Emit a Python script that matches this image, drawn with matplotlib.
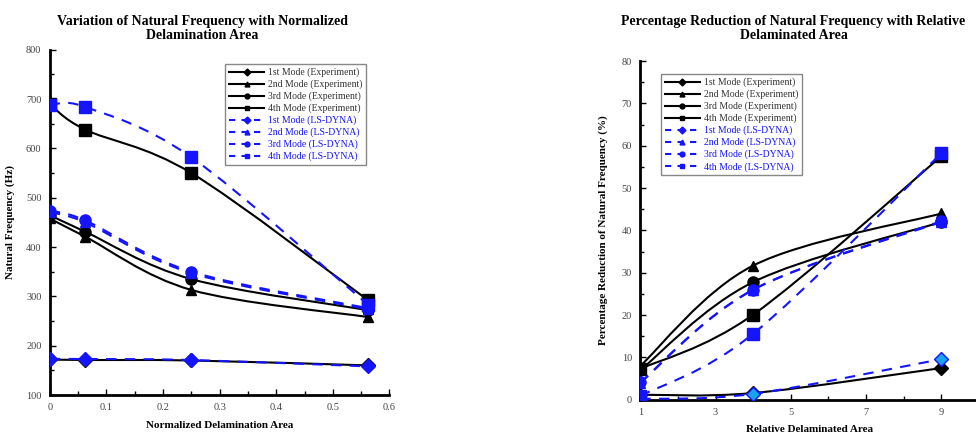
import matplotlib
matplotlib.use("Agg")
import matplotlib.pyplot as plt
from matplotlib.path import Path
from matplotlib.patches import PathPatch
from matplotlib.lines import Line2D
from matplotlib.ticker import MultipleLocator

plt.rcParams['font.family'] = ['Liberation Serif', 'DejaVu Serif']

# ---- data: left chart (natural frequency, Hz) ----
norm_area = [0, 0.0625, 0.25, 0.5625]
exp_freq = {
    "1st": [172, 171, 170, 160],
    "2nd": [458, 421, 313, 258],
    "3rd": [465, 431, 335, 272],
    "4th": [690, 638, 550, 292],
}
dyna_freq = {
    "1st": [173, 173, 171, 158],
    "2nd": [470, 450, 347, 274],
    "3rd": [473, 454, 350, 276],
    "4th": [687, 684, 582, 283],
}

# ---- data: right chart (percentage reduction, %) ----
rel_area = [1, 4, 9]
exp_red = {
    "1st": [1.2, 1.6, 7.5],
    "2nd": [8.0, 31.7, 44.0],
    "3rd": [7.0, 27.8, 42.0],
    "4th": [7.3, 20.1, 57.5],
}
dyna_red = {
    "1st": [0.2, 1.4, 9.6],
    "2nd": [4.0, 26.0, 42.0],
    "3rd": [4.1, 26.0, 42.2],
    "4th": [0.9, 15.6, 58.2],
}

modes = ["1st", "2nd", "3rd", "4th"]
markers = {"1st": "D", "2nd": "^", "3rd": "o", "4th": "s"}
msizes = {"1st": 7, "2nd": 7, "3rd": 8, "4th": 8}
BLUE = "#1414ff"


def smooth_path(x, y):
    # Excel-style smoothed line: cubic Bezier through the points
    pts = list(zip(x, y))
    verts = [pts[0]]
    codes = [Path.MOVETO]
    n = len(pts)
    for i in range(n - 1):
        p0 = pts[i - 1] if i > 0 else pts[i]
        p1 = pts[i]
        p2 = pts[i + 1]
        p3 = pts[i + 2] if i + 2 < n else pts[i + 1]
        c1 = (p1[0] + (p2[0] - p0[0]) / 6, p1[1] + (p2[1] - p0[1]) / 6)
        c2 = (p2[0] - (p3[0] - p1[0]) / 6, p2[1] - (p3[1] - p1[1]) / 6)
        verts += [c1, c2, p2]
        codes += [Path.CURVE4] * 3
    return Path(verts, codes)


def draw_series(ax, x, y, mode, exp):
    if exp:
        patch = PathPatch(smooth_path(x, y), fill=False, edgecolor="black",
                          linewidth=1.5, zorder=2)
        ax.add_patch(patch)
        ax.plot(x, y, linestyle="none", marker=markers[mode], ms=msizes[mode],
                color="black", zorder=3)
    else:
        patch = PathPatch(smooth_path(x, y), fill=False, edgecolor=BLUE,
                          linewidth=1.5, linestyle=(0, (5, 4)), zorder=4)
        ax.add_patch(patch)
        ax.plot(x, y, linestyle="none", marker=markers[mode], ms=msizes[mode],
                color=BLUE, zorder=5)


def style_axes(ax):
    for side in ["top", "right"]:
        ax.spines[side].set_visible(False)
    for side in ["left", "bottom"]:
        ax.spines[side].set_linewidth(2)
    ax.tick_params(which="both", direction="in", labelsize=7.5, colors="black",
                   labelcolor="#444444", pad=6)
    ax.tick_params(which="major", length=4, width=1)
    ax.tick_params(which="minor", length=3, width=1)


def add_legend(ax, anchor):
    handles = []
    labels = []
    for m in modes:
        handles.append(Line2D([], [], color="black", lw=1.5, marker=markers[m], ms=3.5))
        labels.append(f"{m} Mode (Experiment)")
    for m in modes:
        handles.append(Line2D([], [], color=BLUE, lw=1.5, ls=(0, (3, 3)),
                              marker=markers[m], ms=3.5))
        labels.append(f"{m} Mode (LS-DYNA)")
    leg = ax.legend(handles, labels, loc="upper left", bbox_to_anchor=anchor,
                    bbox_transform=ax.figure.transFigure, fontsize=7,
                    fancybox=False, edgecolor="#888888", framealpha=1,
                    handlelength=3.6, labelspacing=0.25, borderpad=0.4,
                    handletextpad=0.4)
    leg.get_frame().set_linewidth(1)
    for i, t in enumerate(leg.get_texts()):
        t.set_color("#333333" if i < 4 else BLUE)
    return leg


fig = plt.figure(figsize=(9.76, 4.36), dpi=100)

# left chart
ax1 = fig.add_axes([0.051, 0.094, 0.348, 0.792])
for m in modes:
    draw_series(ax1, norm_area, exp_freq[m], m, True)
for m in modes:
    draw_series(ax1, norm_area, dyna_freq[m], m, False)
ax1.set_xlim(0, 0.6)
ax1.set_ylim(100, 800)
ax1.xaxis.set_minor_locator(MultipleLocator(0.05))
ax1.yaxis.set_major_locator(MultipleLocator(100))
ax1.yaxis.set_minor_locator(MultipleLocator(50))
ax1.set_xticks([0, 0.1, 0.2, 0.3, 0.4, 0.5, 0.6], ["0", "0.1", "0.2", "0.3", "0.4", "0.5", "0.6"])
style_axes(ax1)
ax1.set_xlabel("Normalized Delamination Area", fontsize=8, fontweight="bold", labelpad=6)
ax1.set_ylabel("Natural Frequency (Hz)", fontsize=8, fontweight="bold", labelpad=8)
add_legend(ax1, (0.226, 0.865))
fig.text(0.207, 0.935, "Variation of Natural Frequency with Normalized\nDelamination Area",
         ha="center", va="center", fontsize=10, fontweight="bold", linespacing=1.15)

# right chart
ax2 = fig.add_axes([0.656, 0.083, 0.347, 0.777])
for m in modes:
    draw_series(ax2, rel_area, exp_red[m], m, True)
for m in modes:
    draw_series(ax2, rel_area, dyna_red[m], m, False)
ax2.lines[-4].set_markerfacecolor("#1aa3e8")
ax2.set_xlim(1, 10)
ax2.set_ylim(0, 80)
ax2.set_xticks([1, 3, 5, 7, 9])
ax2.xaxis.set_minor_locator(MultipleLocator(1))
ax2.yaxis.set_major_locator(MultipleLocator(10))
ax2.yaxis.set_minor_locator(MultipleLocator(5))
style_axes(ax2)
ax2.set_xlabel("Relative Delaminated Area", fontsize=8, fontweight="bold", labelpad=6)
ax2.set_ylabel("Percentage Reduction of Natural Frequency (%)", fontsize=8,
               fontweight="bold", labelpad=10)
add_legend(ax2, (0.672, 0.842))
fig.text(0.813, 0.935, "Percentage Reduction of Natural Frequency with Relative\nDelaminated Area",
         ha="center", va="center", fontsize=10, fontweight="bold", linespacing=1.15)

fig.savefig("out.png", dpi=100)
